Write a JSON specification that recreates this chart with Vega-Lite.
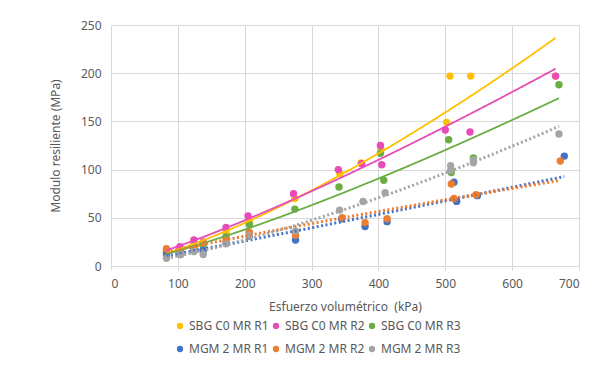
{
  "$schema": "https://vega.github.io/schema/vega-lite/v6.json",
  "autosize": {"type": "none"},
  "width": 468,
  "height": 241,
  "padding": {"left": 111, "top": 25, "right": 26, "bottom": 100},
  "background": "white",
  "config": {
    "font": "Noto Sans",
    "view": {"stroke": null},
    "axis": {"labelColor": "#595959", "titleColor": "#595959", "labelFontSize": 12, "titleFontSize": 12, "titleFontWeight": "normal", "gridColor": "#D9D9D9", "gridWidth": 1}
  },
  "data": {"values": [
    {"series": "SBG C0 MR R1", "type": "SBG", "theta": 83, "MR": 15},
    {"series": "SBG C0 MR R1", "type": "SBG", "theta": 104, "MR": 18},
    {"series": "SBG C0 MR R1", "type": "SBG", "theta": 124, "MR": 22},
    {"series": "SBG C0 MR R1", "type": "SBG", "theta": 138, "MR": 23},
    {"series": "SBG C0 MR R1", "type": "SBG", "theta": 172, "MR": 35},
    {"series": "SBG C0 MR R1", "type": "SBG", "theta": 207, "MR": 46},
    {"series": "SBG C0 MR R1", "type": "SBG", "theta": 275, "MR": 70},
    {"series": "SBG C0 MR R1", "type": "SBG", "theta": 342, "MR": 96},
    {"series": "SBG C0 MR R1", "type": "SBG", "theta": 374, "MR": 107},
    {"series": "SBG C0 MR R1", "type": "SBG", "theta": 404, "MR": 121},
    {"series": "SBG C0 MR R1", "type": "SBG", "theta": 502, "MR": 149},
    {"series": "SBG C0 MR R1", "type": "SBG", "theta": 507, "MR": 197},
    {"series": "SBG C0 MR R1", "type": "SBG", "theta": 538, "MR": 197},
    {"series": "SBG C0 MR R1", "type": "SBG", "theta": 665, "MR": 197},
    {"series": "SBG C0 MR R2", "type": "SBG", "theta": 83, "MR": 17},
    {"series": "SBG C0 MR R2", "type": "SBG", "theta": 103, "MR": 20},
    {"series": "SBG C0 MR R2", "type": "SBG", "theta": 124, "MR": 27},
    {"series": "SBG C0 MR R2", "type": "SBG", "theta": 138, "MR": 25},
    {"series": "SBG C0 MR R2", "type": "SBG", "theta": 172, "MR": 40},
    {"series": "SBG C0 MR R2", "type": "SBG", "theta": 205, "MR": 52},
    {"series": "SBG C0 MR R2", "type": "SBG", "theta": 273, "MR": 75},
    {"series": "SBG C0 MR R2", "type": "SBG", "theta": 340, "MR": 100},
    {"series": "SBG C0 MR R2", "type": "SBG", "theta": 375, "MR": 106},
    {"series": "SBG C0 MR R2", "type": "SBG", "theta": 403, "MR": 125},
    {"series": "SBG C0 MR R2", "type": "SBG", "theta": 405, "MR": 105},
    {"series": "SBG C0 MR R2", "type": "SBG", "theta": 500, "MR": 141},
    {"series": "SBG C0 MR R2", "type": "SBG", "theta": 537, "MR": 139},
    {"series": "SBG C0 MR R2", "type": "SBG", "theta": 665, "MR": 197},
    {"series": "SBG C0 MR R3", "type": "SBG", "theta": 83, "MR": 14},
    {"series": "SBG C0 MR R3", "type": "SBG", "theta": 104, "MR": 15},
    {"series": "SBG C0 MR R3", "type": "SBG", "theta": 124, "MR": 20},
    {"series": "SBG C0 MR R3", "type": "SBG", "theta": 138, "MR": 21},
    {"series": "SBG C0 MR R3", "type": "SBG", "theta": 172, "MR": 30},
    {"series": "SBG C0 MR R3", "type": "SBG", "theta": 207, "MR": 43},
    {"series": "SBG C0 MR R3", "type": "SBG", "theta": 275, "MR": 59},
    {"series": "SBG C0 MR R3", "type": "SBG", "theta": 341, "MR": 82},
    {"series": "SBG C0 MR R3", "type": "SBG", "theta": 403, "MR": 117},
    {"series": "SBG C0 MR R3", "type": "SBG", "theta": 408, "MR": 89},
    {"series": "SBG C0 MR R3", "type": "SBG", "theta": 505, "MR": 131},
    {"series": "SBG C0 MR R3", "type": "SBG", "theta": 509, "MR": 97},
    {"series": "SBG C0 MR R3", "type": "SBG", "theta": 542, "MR": 112},
    {"series": "SBG C0 MR R3", "type": "SBG", "theta": 670, "MR": 188},
    {"series": "MGM 2 MR R1", "type": "MGM", "theta": 83, "MR": 12},
    {"series": "MGM 2 MR R1", "type": "MGM", "theta": 104, "MR": 12},
    {"series": "MGM 2 MR R1", "type": "MGM", "theta": 124, "MR": 17},
    {"series": "MGM 2 MR R1", "type": "MGM", "theta": 138, "MR": 16},
    {"series": "MGM 2 MR R1", "type": "MGM", "theta": 172, "MR": 24},
    {"series": "MGM 2 MR R1", "type": "MGM", "theta": 207, "MR": 31},
    {"series": "MGM 2 MR R1", "type": "MGM", "theta": 276, "MR": 27},
    {"series": "MGM 2 MR R1", "type": "MGM", "theta": 345, "MR": 49},
    {"series": "MGM 2 MR R1", "type": "MGM", "theta": 380, "MR": 41},
    {"series": "MGM 2 MR R1", "type": "MGM", "theta": 413, "MR": 46},
    {"series": "MGM 2 MR R1", "type": "MGM", "theta": 513, "MR": 87},
    {"series": "MGM 2 MR R1", "type": "MGM", "theta": 517, "MR": 67},
    {"series": "MGM 2 MR R1", "type": "MGM", "theta": 548, "MR": 73},
    {"series": "MGM 2 MR R1", "type": "MGM", "theta": 678, "MR": 114},
    {"series": "MGM 2 MR R2", "type": "MGM", "theta": 83, "MR": 18},
    {"series": "MGM 2 MR R2", "type": "MGM", "theta": 104, "MR": 15},
    {"series": "MGM 2 MR R2", "type": "MGM", "theta": 124, "MR": 20},
    {"series": "MGM 2 MR R2", "type": "MGM", "theta": 138, "MR": 24},
    {"series": "MGM 2 MR R2", "type": "MGM", "theta": 172, "MR": 27},
    {"series": "MGM 2 MR R2", "type": "MGM", "theta": 207, "MR": 35},
    {"series": "MGM 2 MR R2", "type": "MGM", "theta": 276, "MR": 32},
    {"series": "MGM 2 MR R2", "type": "MGM", "theta": 346, "MR": 50},
    {"series": "MGM 2 MR R2", "type": "MGM", "theta": 380, "MR": 45},
    {"series": "MGM 2 MR R2", "type": "MGM", "theta": 413, "MR": 49},
    {"series": "MGM 2 MR R2", "type": "MGM", "theta": 509, "MR": 85},
    {"series": "MGM 2 MR R2", "type": "MGM", "theta": 513, "MR": 70},
    {"series": "MGM 2 MR R2", "type": "MGM", "theta": 546, "MR": 74},
    {"series": "MGM 2 MR R2", "type": "MGM", "theta": 672, "MR": 109},
    {"series": "MGM 2 MR R3", "type": "MGM", "theta": 83, "MR": 8},
    {"series": "MGM 2 MR R3", "type": "MGM", "theta": 104, "MR": 12},
    {"series": "MGM 2 MR R3", "type": "MGM", "theta": 124, "MR": 15},
    {"series": "MGM 2 MR R3", "type": "MGM", "theta": 138, "MR": 12},
    {"series": "MGM 2 MR R3", "type": "MGM", "theta": 172, "MR": 23},
    {"series": "MGM 2 MR R3", "type": "MGM", "theta": 207, "MR": 32},
    {"series": "MGM 2 MR R3", "type": "MGM", "theta": 276, "MR": 36},
    {"series": "MGM 2 MR R3", "type": "MGM", "theta": 342, "MR": 58},
    {"series": "MGM 2 MR R3", "type": "MGM", "theta": 377, "MR": 67},
    {"series": "MGM 2 MR R3", "type": "MGM", "theta": 410, "MR": 76},
    {"series": "MGM 2 MR R3", "type": "MGM", "theta": 508, "MR": 104},
    {"series": "MGM 2 MR R3", "type": "MGM", "theta": 508, "MR": 99},
    {"series": "MGM 2 MR R3", "type": "MGM", "theta": 542, "MR": 107},
    {"series": "MGM 2 MR R3", "type": "MGM", "theta": 542, "MR": 110},
    {"series": "MGM 2 MR R3", "type": "MGM", "theta": 670, "MR": 137}
  ]},
  "encoding": {
    "x": {"field": "theta", "type": "quantitative", "title": "Esfuerzo volumétrico \u00a0(kPa)",
      "scale": {"domain": [0, 700], "nice": false},
      "axis": {"values": [0,100,200,300,400,500,600,700], "domainColor": "#D9D9D9", "tickColor": "#D9D9D9", "tickSize": 4, "labelPadding": 8, "titlePadding": 12}},
    "y": {"field": "MR", "type": "quantitative", "title": "Modulo resiliente (MPa)",
      "scale": {"domain": [0, 250], "nice": false},
      "axis": {"values": [0,50,100,150,200,250], "domain": false, "ticks": false, "labelPadding": 10, "titlePadding": 18}},
    "color": {"field": "series", "type": "nominal",
      "scale": {"domain": ["SBG C0 MR R1","SBG C0 MR R2","SBG C0 MR R3","MGM 2 MR R1","MGM 2 MR R2","MGM 2 MR R3"],
        "range": ["#FFC000","#E84BB8","#6AAD45","#4472C4","#ED7D31","#A5A5A5"]}}
  },
  "layer": [
    {
      "mark": {"type": "point", "filled": true, "opacity": 1, "size": 55},
      "encoding": {
        "color": {"field": "series", "type": "nominal",
          "legend": {"title": null, "orient": "none", "legendX": 63, "legendY": 295, "direction": "horizontal", "columns": 3,
            "symbolType": "circle", "symbolSize": 40, "symbolOpacity": 1, "labelFontSize": 12, "labelColor": "#595959",
            "labelOffset": 3, "columnPadding": 1, "rowPadding": 11, "symbolStrokeWidth": 0}}
      }
    },
    {
      "transform": [{"regression": "MR", "on": "theta", "method": "pow", "groupby": ["series", "type"]}],
      "mark": {"type": "line", "clip": true},
      "encoding": {
        "color": {"field": "series", "type": "nominal", "legend": null},
        "strokeDash": {"field": "type", "type": "nominal", "scale": {"domain": ["SBG","MGM"], "range": [[1,0],[2,2.5]]}, "legend": null},
        "strokeWidth": {"field": "type", "type": "nominal", "scale": {"domain": ["SBG","MGM"], "range": [1.8, 3]}, "legend": null}
      }
    }
  ]
}
